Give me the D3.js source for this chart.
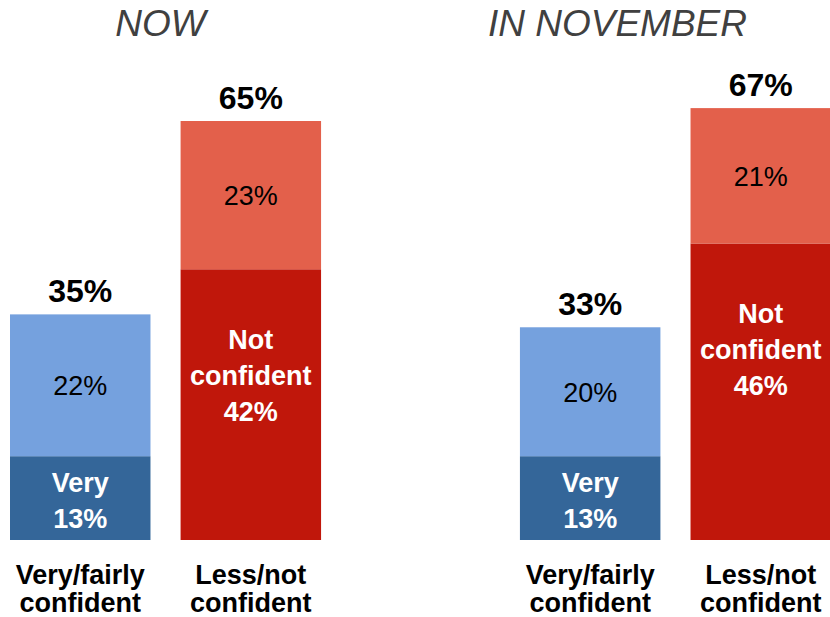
<!DOCTYPE html>
<html>
<head>
<meta charset="utf-8">
<script src="https://cdn.jsdelivr.net/npm/d3@7"></script>
<style>
  body { margin: 0; background: #fff; }
  svg { display: block; font-family: "Liberation Sans", Arial, sans-serif; }
</style>
</head>
<body>
<svg width="830" height="617"></svg>
<script>
const panels = ["NOW", "IN NOVEMBER"];
const categories = ["Very/fairly confident", "Less/not confident"];
// bottom (strong) segment and top (weak) segment per panel, per category
const strongValues = [[13, 42], [13, 46]];
const weakValues = [[22, 23], [20, 21]];
const totals = [[35, 65], [33, 67]];
const strongLabels = [["Very"], ["Not", "confident"]];
const categoryLines = [["Very/fairly", "confident"], ["Less/not", "confident"]];

const strongColors = ["#346699", "#c0170b"];
const weakColors = ["#75a1de", "#e3604b"];

const svg = d3.select("svg");

const y = d3.scaleLinear().domain([0, 65]).range([540, 121]);
const x0 = d3.scaleBand().domain(panels).range([10, 831]).paddingInner(0.39);
const x1 = d3.scaleBand().domain(categories).range([0, x0.bandwidth()]).paddingInner(0.1765);

const titleDx = [-5, -58];

panels.forEach((p, pi) => {
  const g = svg.append("g").attr("transform", `translate(${x0(p)},0)`);

  g.append("text")
    .attr("x", x0.bandwidth() / 2 + titleDx[pi])
    .attr("y", 36)
    .attr("text-anchor", "middle")
    .attr("font-size", 37)
    .attr("font-style", "italic")
    .attr("fill", "#404040")
    .text(p);

  categories.forEach((c, ci) => {
    const bx = x1(c), bw = x1.bandwidth(), cx = bx + bw / 2;
    const s = strongValues[pi][ci], w = weakValues[pi][ci];

    g.append("rect")
      .attr("x", bx).attr("width", bw)
      .attr("y", y(s)).attr("height", y(0) - y(s))
      .attr("fill", strongColors[ci]);
    g.append("rect")
      .attr("x", bx).attr("width", bw)
      .attr("y", y(s + w)).attr("height", y(s) - y(s + w))
      .attr("fill", weakColors[ci]);

    // weak segment label
    g.append("text")
      .attr("x", cx)
      .attr("y", (y(s) + y(s + w)) / 2 + 10)
      .attr("text-anchor", "middle")
      .attr("font-size", 27)
      .attr("fill", "#000")
      .text(w + "%");

    // strong segment label
    const lines = strongLabels[ci].concat([s + "%"]);
    const lh = ci === 0 ? 36 : 36;
    const top = ci === 0 ? y(s) + 36 : y(s) + 80;
    const t = g.append("text")
      .attr("text-anchor", "middle")
      .attr("font-size", 27)
      .attr("font-weight", "bold")
      .attr("fill", "#fff");
    lines.forEach((l, li) => {
      t.append("tspan").attr("x", cx).attr("y", top + li * lh).text(l);
    });

    // total
    g.append("text")
      .attr("x", cx)
      .attr("y", y(totals[pi][ci]) - 12)
      .attr("text-anchor", "middle")
      .attr("font-size", 32)
      .attr("font-weight", "bold")
      .attr("fill", "#000")
      .text(totals[pi][ci] + "%");

    // category label
    const ct = g.append("text")
      .attr("text-anchor", "middle")
      .attr("font-size", 27)
      .attr("font-weight", "bold")
      .attr("fill", "#000");
    categoryLines[ci].forEach((l, li) => {
      ct.append("tspan").attr("x", cx).attr("y", 584 + li * 28).text(l);
    });
  });
});
</script>
</body>
</html>
